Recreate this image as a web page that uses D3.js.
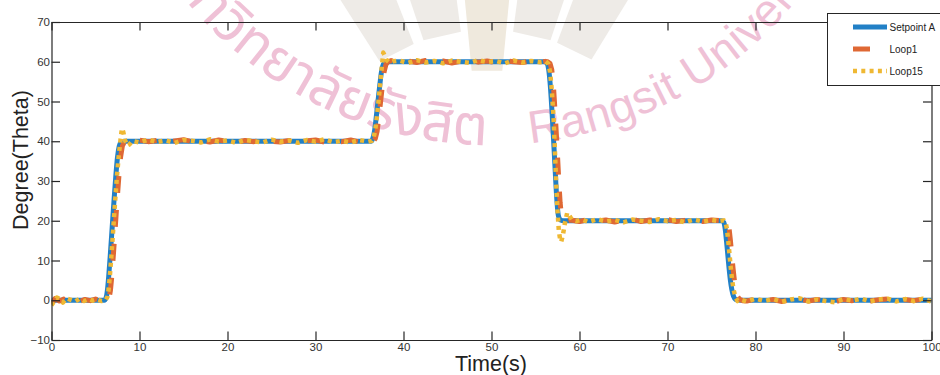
<!DOCTYPE html>
<html>
<head>
<meta charset="utf-8">
<script src="https://cdn.jsdelivr.net/npm/d3@7"></script>
<style>
  html, body { margin: 0; padding: 0; background: #fff; }
  svg { display: block; }
</style>
</head>
<body>
<svg id="chart" width="940" height="375"></svg>
<script>
// ---- data -------------------------------------------------------------
const xTicks = [0, 10, 20, 30, 40, 50, 60, 70, 80, 90, 100];
const yTicks = [-10, 0, 10, 20, 30, 40, 50, 60, 70];
const seriesNames = ["Setpoint A", "Loop1", "Loop15"];

// [time (s), angle (deg)]
const setpointA = [
  [0, 0], [6.0, 0], [6.2, 0.6], [6.35, 2.5], [6.5, 6], [6.7, 12], [6.9, 18.5], [7.1, 25],
  [7.3, 31], [7.5, 36], [7.7, 38.8], [7.9, 39.7], [8.2, 40],
  [36.3, 40], [36.5, 40.6], [36.7, 42.5], [36.9, 46], [37.1, 50], [37.3, 54], [37.5, 57.5],
  [37.7, 59.3], [37.95, 59.9], [38.3, 60],
  [56.0, 60], [56.3, 59.6], [56.5, 58], [56.7, 53.5], [56.9, 46.5], [57.1, 38.5], [57.3, 30],
  [57.45, 24.5], [57.6, 21.3], [57.85, 20.2], [58.2, 20],
  [76.2, 20], [76.4, 19.6], [76.55, 18], [76.7, 15], [76.85, 11.5], [77.0, 8], [77.15, 5],
  [77.3, 2.8], [77.5, 1], [77.75, 0.2], [78.1, 0], [100, 0]
];

const loop1 = [
  [0, -0.9], [0.4, 0.4], [0.9, -0.2], [1.4, 0.3], [2, -0.1], [2.6, 0.2], [3.2, -0.3], [3.8, 0.2],
  [4.4, -0.1], [5, 0.3], [5.6, -0.2], [6.1, 0.1],
  [6.35, 0], [6.55, 0.6], [6.7, 2.5], [6.85, 6], [7.05, 12], [7.25, 18.5], [7.45, 25], [7.65, 31],
  [7.85, 36], [8.05, 38.8], [8.25, 39.7], [8.55, 40.2],
  [9, 39.8], [10, 40.3], [11, 39.9], [12, 40.2], [13, 39.7], [14, 40.1], [15, 40.4], [16, 39.9],
  [17, 40.2], [18, 39.8], [19, 40.3], [20, 40.0], [21, 39.7], [22, 40.2], [23, 39.9], [24, 40.3],
  [25, 40.0], [26, 39.8], [27, 40.2], [28, 39.9], [29, 40.1], [30, 40.3], [31, 39.8], [32, 40.1],
  [33, 39.9], [34, 40.3], [35, 39.8], [36, 40.1],
  [36.6, 40.1], [36.8, 40.7], [37.0, 42.5], [37.2, 46], [37.4, 50], [37.6, 54], [37.8, 57.5],
  [38.0, 59.3], [38.25, 60], [38.6, 60.3],
  [39.5, 59.8], [40.5, 60.2], [41.5, 59.8], [42.5, 60.3], [43.5, 59.9], [44.5, 60.2], [45.5, 59.7],
  [46.5, 60.1], [47.5, 60.4], [48.5, 59.9], [49.5, 60.2], [50.5, 59.8], [51.5, 60.3], [52.5, 60.0],
  [53.5, 59.8], [54.5, 60.2], [55.5, 59.9], [56.1, 60.1],
  [56.35, 60], [56.65, 59.6], [56.85, 58], [57.05, 53.5], [57.25, 46.5], [57.45, 38.5], [57.65, 30],
  [57.8, 24.5], [57.95, 21.3], [58.2, 20.2], [58.55, 19.9],
  [59, 20.2], [60, 19.8], [61, 20.3], [62, 19.9], [63, 20.2], [64, 19.7], [65, 20.1], [66, 20.4],
  [67, 19.8], [68, 20.2], [69, 19.9], [70, 20.3], [71, 19.8], [72, 20.1], [73, 20.3], [74, 19.8],
  [75, 20.2], [76, 20.0],
  [76.65, 20], [76.85, 19.6], [77.0, 18], [77.15, 15], [77.3, 11.5], [77.45, 8], [77.6, 5],
  [77.75, 2.8], [77.95, 1], [78.2, 0.2], [78.55, -0.1],
  [79, -0.2], [80, 0.3], [81, -0.1], [82, 0.2], [83, -0.3], [84, 0.1], [85, 0.3], [86, -0.2],
  [87, 0.2], [88, -0.1], [89, -0.4], [90, 0.2], [91, -0.1], [92, 0.3], [93, -0.2], [94, 0.1],
  [95, 0.3], [96, -0.2], [97, 0.2], [98, -0.1], [99, 0.3], [100, -0.1]
];

const loop15 = [
  [0, -1.3], [0.3, -0.2], [0.6, 0.7], [1.0, 0.2], [1.3, -0.6], [1.7, 0.5], [2.2, 0.1], [2.7, -0.3],
  [3.2, 0.4], [3.7, -0.2], [4.2, 0.3], [4.7, -0.1], [5.2, 0.2], [5.7, -0.2],
  [6.15, 0.1], [6.35, 0.8], [6.5, 2.8], [6.65, 6.5], [6.85, 12.5], [7.05, 19], [7.25, 25.5],
  [7.45, 31.5], [7.65, 36.5], [7.85, 40.5], [8.0, 43.2], [8.15, 42.4], [8.35, 40.3], [8.6, 38.9],
  [8.85, 39.2], [9.2, 40.1],
  [10, 39.7], [11, 40.4], [12, 39.8], [13, 40.2], [14, 39.6], [15, 40.3], [16, 40.1], [17, 39.7],
  [18, 40.5], [19, 39.9], [20, 40.2], [21, 39.6], [22, 40.3], [23, 40.0], [24, 39.7], [25, 40.4],
  [26, 39.9], [27, 40.2], [28, 39.6], [29, 40.3], [30, 39.9], [31, 40.5], [32, 39.8], [33, 40.1],
  [34, 39.7], [35, 40.3], [36, 39.9],
  [36.4, 40.1], [36.6, 40.8], [36.8, 43], [37.0, 46.5], [37.2, 51], [37.4, 55.5], [37.55, 59],
  [37.7, 62.3], [37.85, 61.6], [38.05, 60.5], [38.4, 59.8], [38.8, 60.1],
  [39.5, 60.3], [40.5, 59.7], [41.5, 60.4], [42.5, 59.8], [43.5, 60.2], [44.5, 59.6], [45.5, 60.3],
  [46.5, 60.0], [47.5, 59.7], [48.5, 60.4], [49.5, 59.9], [50.5, 60.2], [51.5, 59.6], [52.5, 60.3],
  [53.5, 59.8], [54.5, 60.2], [55.5, 59.9],
  [56.15, 60.1], [56.45, 59.5], [56.65, 57.5], [56.85, 53], [57.05, 46], [57.2, 38], [57.35, 29.5],
  [57.5, 22.5], [57.65, 17.5], [57.8, 15.3], [57.92, 14.7], [58.1, 16.2], [58.35, 19.5],
  [58.6, 22], [58.85, 21.3], [59.15, 20.2], [59.6, 19.9],
  [60.3, 20.3], [61, 19.7], [62, 20.4], [63, 19.8], [64, 20.2], [65, 19.6], [66, 20.3], [67, 20.0],
  [68, 19.7], [69, 20.4], [70, 19.9], [71, 20.2], [72, 19.6], [73, 20.3], [74, 19.8], [75, 20.2],
  [75.8, 19.9],
  [76.4, 20.1], [76.6, 19.6], [76.75, 18], [76.9, 15], [77.05, 11.5], [77.2, 8], [77.35, 5],
  [77.5, 2.8], [77.7, 0.9], [77.95, -0.2], [78.3, 0.2],
  [79, -0.3], [80, 0.4], [81, -0.2], [82, 0.3], [83, -0.4], [84, 0.2], [85, 0.5], [86, -0.3],
  [87, 0.2], [88, -0.2], [89, -0.5], [90, 0.3], [91, -0.1], [92, 0.4], [93, -0.3], [94, 0.2],
  [95, 0.4], [96, -0.3], [97, 0.3], [98, -0.2], [99, 0.4], [100, -0.3]
];

// ---- layout -----------------------------------------------------------
const svg = d3.select("#chart");
const plot = { left: 51.5, right: 931.5, top: 22, bottom: 340 };
const axisColor = "#262626";
const fontFamily = "'Liberation Sans', Arial, Helvetica, sans-serif";

const x = d3.scaleLinear().domain([0, 100]).range([plot.left, plot.right]);
const y = d3.scaleLinear().domain([-10, 70]).range([plot.bottom, plot.top]);

// ---- background watermark ----------------------------------------------
const wm = svg.append("g").attr("class", "watermark");

// faint fan of rays
const rayCx = 487, rayCy = 230;
const rays = [
  { a: -27, r0: 200 }, { a: -13, r0: 200 }, { a: 0, r0: 160 }, { a: 13, r0: 200 }, { a: 26, r0: 200 }
];
rays.forEach(r => {
  const hw = 5.5, r1 = 320;
  const pt = (ang, rad) => {
    const t = (ang - 90) * Math.PI / 180;
    return [rayCx + rad * Math.cos(t), rayCy + rad * Math.sin(t)];
  };
  const pts = [pt(r.a - hw, r.r0), pt(r.a + hw, r.r0), pt(r.a + hw, r1), pt(r.a - hw, r1)];
  wm.append("polygon")
    .attr("points", pts.map(p => p.join(",")).join(" "))
    .attr("fill", r.a === 0 ? "#efe9dd" : "#eeebe7");
});

// curved name text
const wmCx = 491, wmCy = -250, wmR = 395;
const arcPath = d3.path();
arcPath.arc(wmCx, wmCy, wmR, 200 * Math.PI / 180, -20 * Math.PI / 180, true);
svg.append("defs").append("path").attr("id", "wmArc").attr("d", arcPath.toString());
const degLen = wmR * Math.PI / 180;
const wmColor = "#efc1d6";

wm.append("text")
  .attr("font-family", "'Noto Sans Thai', 'Noto Sans', 'DejaVu Sans', sans-serif")
  .attr("font-size", 56)
  .attr("fill", wmColor)
  .append("textPath")
  .attr("href", "#wmArc")
  .attr("startOffset", (200 - 90.6) * degLen)
  .attr("text-anchor", "end")
  .text("มหาวิทยาลัยรังสิต");

wm.append("text")
  .attr("font-family", fontFamily)
  .attr("font-size", 46)
  .attr("letter-spacing", 0.6)
  .attr("fill", wmColor)
  .append("textPath")
  .attr("href", "#wmArc")
  .attr("startOffset", (200 - 84.3) * degLen)
  .attr("text-anchor", "start")
  .text("Rangsit University");

// ---- series -------------------------------------------------------------
const line = d3.line().x(d => x(d[0])).y(d => y(d[1]));
const lineSmooth = d3.line().x(d => x(d[0])).y(d => y(d[1])).curve(d3.curveMonotoneX);

const styles = [
  { name: seriesNames[0], data: setpointA, color: "#2280c6", width: 5, dash: null, gen: lineSmooth },
  { name: seriesNames[1], data: loop1, color: "#df6834", width: 5, dash: "17,17", gen: line },
  { name: seriesNames[2], data: loop15, color: "#efb833", width: 4.5, dash: "4,4.3", gen: line }
];

svg.append("clipPath").attr("id", "plotClip")
  .append("rect")
  .attr("x", plot.left).attr("y", plot.top)
  .attr("width", plot.right - plot.left).attr("height", plot.bottom - plot.top);

const series = svg.append("g").attr("clip-path", "url(#plotClip)");
styles.forEach(s => {
  series.append("path")
    .datum(s.data)
    .attr("d", s.gen)
    .attr("fill", "none")
    .attr("stroke", s.color)
    .attr("stroke-width", s.width)
    .attr("stroke-linejoin", "round")
    .attr("stroke-dasharray", s.dash);
});

// ---- axes (boxed, inward ticks) -----------------------------------------
function styleAxis(g) {
  g.selectAll("path, line").attr("stroke", axisColor).attr("stroke-width", 1.2);
  g.selectAll("text").attr("fill", "#333").attr("font-size", 11.5).attr("font-family", fontFamily);
}

svg.append("g")
  .attr("transform", `translate(0,${plot.bottom})`)
  .call(d3.axisBottom(x).tickValues(xTicks).tickSizeInner(-8.5).tickSizeOuter(0).tickPadding(3))
  .call(styleAxis);

svg.append("g")
  .attr("transform", `translate(0,${plot.top})`)
  .call(d3.axisTop(x).tickValues(xTicks).tickSizeInner(-8.5).tickSizeOuter(0).tickFormat(""))
  .call(styleAxis);

svg.append("g")
  .attr("transform", `translate(${plot.left},0)`)
  .call(d3.axisLeft(y).tickValues(yTicks).tickSizeInner(-8.5).tickSizeOuter(0).tickPadding(1.5))
  .call(styleAxis);

svg.append("g")
  .attr("transform", `translate(${plot.right},0)`)
  .call(d3.axisRight(y).tickValues(yTicks).tickSizeInner(-8.5).tickSizeOuter(0).tickFormat(""))
  .call(styleAxis);

// axis titles
svg.append("text")
  .attr("x", 491).attr("y", 371)
  .attr("text-anchor", "middle")
  .attr("font-family", fontFamily).attr("font-size", 21.5)
  .attr("fill", "#222")
  .text("Time(s)");

svg.append("text")
  .attr("transform", "translate(28,160) rotate(-90)")
  .attr("text-anchor", "middle")
  .attr("font-family", fontFamily).attr("font-size", 21.5)
  .attr("fill", "#222")
  .text("Degree(Theta)");

// ---- legend -------------------------------------------------------------
const legend = svg.append("g").attr("transform", "translate(827.5,13.5)");
legend.append("rect")
  .attr("width", 130).attr("height", 72)
  .attr("fill", "#fff").attr("stroke", axisColor).attr("stroke-width", 1);

styles.forEach((s, i) => {
  const ly = 13.5 + i * 22;
  legend.append("line")
    .attr("x1", 25.5).attr("x2", 59.5).attr("y1", ly).attr("y2", ly)
    .attr("stroke", s.color).attr("stroke-width", s.width)
    .attr("stroke-dasharray", s.dash);
  legend.append("text")
    .attr("x", 62).attr("y", ly)
    .attr("dy", "0.35em")
    .attr("font-family", fontFamily).attr("font-size", 10)
    .attr("fill", "#222")
    .text(s.name);
});
</script>
</body>
</html>
